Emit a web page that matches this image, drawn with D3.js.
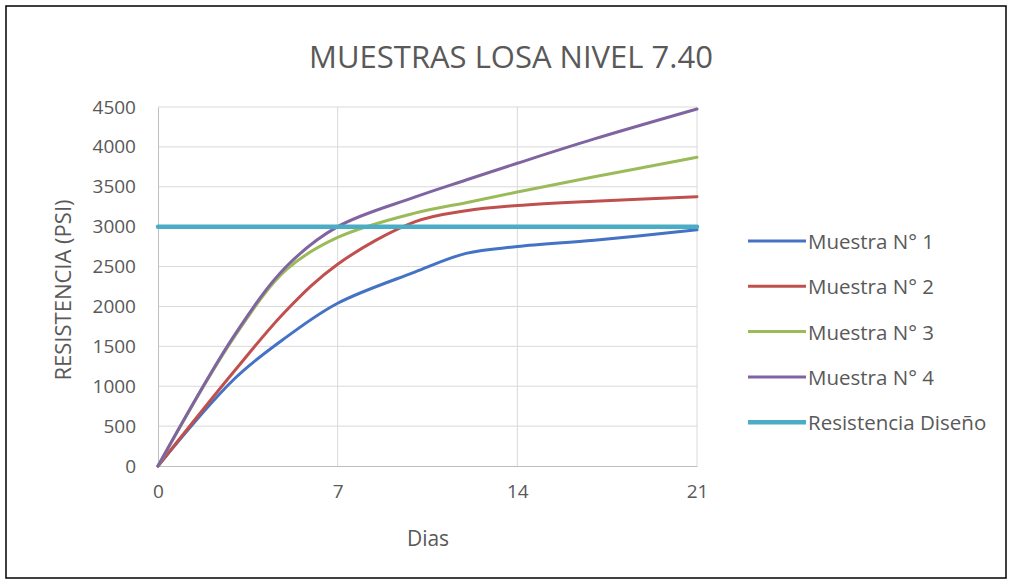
<!DOCTYPE html>
<html>
<head>
<meta charset="utf-8">
<script src="https://cdn.jsdelivr.net/npm/d3@7"></script>
<style>
  html, body { margin: 0; padding: 0; background: #fff; }
  svg { display: block; }
  text { font-family: "Open Sans", "Noto Sans", sans-serif; fill: #595959; }
</style>
</head>
<body>
<svg id="chart" width="1013" height="584"></svg>
<script>
// Test days (x axis)
const days = [0, 3, 5, 7, 10, 12, 14, 17, 21];

// Compressive strength (PSI) for each sample
const muestra1 = [0, 1100, 1615, 2040, 2430, 2665, 2750, 2830, 2960];
const muestra2 = [0, 1200, 1950, 2530, 3060, 3200, 3265, 3320, 3375];
const muestra3 = [0, 1630, 2460, 2865, 3170, 3300, 3435, 3625, 3870];
const muestra4 = [0, 1650, 2500, 3000, 3370, 3585, 3795, 4100, 4475];
const resistenciaDiseno = [3000, 3000, 3000, 3000, 3000, 3000, 3000, 3000, 3000];

const seriesNames = ["Muestra N° 1", "Muestra N° 2", "Muestra N° 3", "Muestra N° 4", "Resistencia Diseño"];
const seriesColors = ["#4472C4", "#C0504D", "#9BBB59", "#8064A2", "#4BACC6"];
const seriesValues = [muestra1, muestra2, muestra3, muestra4, resistenciaDiseno];

const xTicks = [0, 7, 14, 21];
const yTicks = [0, 500, 1000, 1500, 2000, 2500, 3000, 3500, 4000, 4500];

const svg = d3.select("#chart");

// Outer frame
svg.append("rect")
  .attr("x", 6).attr("y", 6).attr("width", 1000).attr("height", 572)
  .attr("fill", "none").attr("stroke", "#000").attr("stroke-width", 1.5);

const plot = { left: 158, right: 697, top: 107, bottom: 466 };

const x = d3.scaleLinear().domain([0, 21]).range([plot.left, plot.right]);
const y = d3.scaleLinear().domain([0, 4500]).range([plot.bottom, plot.top]);

// Gridlines
const grid = svg.append("g");
grid.selectAll(".hg").data(yTicks.filter(d => d > 0)).enter().append("line")
  .attr("x1", plot.left).attr("x2", plot.right)
  .attr("y1", d => y(d)).attr("y2", d => y(d))
  .attr("stroke", "#d9d9d9").attr("stroke-width", 1);
grid.selectAll(".vg").data(xTicks.filter(d => d > 0)).enter().append("line")
  .attr("x1", d => x(d)).attr("x2", d => x(d))
  .attr("y1", plot.top).attr("y2", plot.bottom)
  .attr("stroke", "#d9d9d9").attr("stroke-width", 1);

// Axes
const yAxis = svg.append("g")
  .attr("transform", `translate(${plot.left},0)`)
  .call(d3.axisLeft(y).tickValues(yTicks).tickFormat(d3.format("d")).tickSize(0).tickPadding(22));
yAxis.select(".domain").attr("stroke", "#bfbfbf");
yAxis.selectAll("text").style("font-size", "19px").attr("fill", "#595959")
  .style("font-family", "'Open Sans', sans-serif");

const xAxis = svg.append("g")
  .attr("transform", `translate(0,${plot.bottom})`)
  .call(d3.axisBottom(x).tickValues(xTicks).tickFormat(d3.format("d")).tickSize(0).tickPadding(19));
xAxis.select(".domain").attr("stroke", "#bfbfbf");
xAxis.selectAll("text").style("font-size", "19px").attr("fill", "#595959")
  .style("font-family", "'Open Sans', sans-serif");

// Series lines
const line = d3.line()
  .x((d, i) => x(days[i]))
  .y(d => y(d))
  .curve(d3.curveCatmullRom.alpha(0.5));

seriesValues.forEach((vals, i) => {
  svg.append("path")
    .datum(vals)
    .attr("fill", "none")
    .attr("stroke", seriesColors[i])
    .attr("stroke-width", i === 4 ? 4.5 : 3)
    .attr("stroke-linecap", "round")
    .attr("d", line);
});

// Titles
svg.append("text")
  .attr("x", 511).attr("y", 56)
  .attr("text-anchor", "middle").attr("dominant-baseline", "central")
  .style("font-size", "31px")
  .text("MUESTRAS LOSA NIVEL 7.40");

svg.append("text")
  .attr("x", 428).attr("y", 538)
  .attr("text-anchor", "middle").attr("dominant-baseline", "central")
  .style("font-size", "21px")
  .text("Dias");

svg.append("text")
  .attr("transform", "translate(62,290) rotate(-90)")
  .attr("text-anchor", "middle").attr("dominant-baseline", "central")
  .style("font-size", "22px")
  .text("RESISTENCIA (PSI)");

// Legend
const legend = svg.append("g");
seriesNames.forEach((name, i) => {
  const ly = 241 + i * 45.3;
  legend.append("line")
    .attr("x1", 748).attr("x2", 806).attr("y1", ly).attr("y2", ly)
    .attr("stroke", seriesColors[i]).attr("stroke-width", i === 4 ? 4.5 : 3);
  legend.append("text")
    .attr("x", 808).attr("y", ly)
    .attr("dominant-baseline", "central")
    .style("font-size", "20.5px")
    .text(name);
});
</script>
</body>
</html>
